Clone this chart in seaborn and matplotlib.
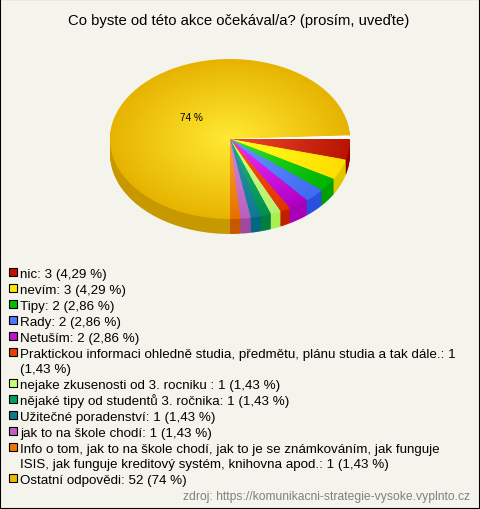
import numpy as np
import seaborn as sns
import matplotlib
matplotlib.use("Agg")
import matplotlib.pyplot as plt

title = "Co byste od této akce očekával/a? (prosím, uveďte)"
source = "zdroj: https://komunikacni-strategie-vysoke.vyplnto.cz"

labels = [
    "nic: 3 (4,29 %)",
    "nevím: 3 (4,29 %)",
    "Tipy: 2 (2,86 %)",
    "Rady: 2 (2,86 %)",
    "Netuším: 2 (2,86 %)",
    "Praktickou informaci ohledně studia, předmětu, plánu studia a tak dále.: 1\n(1,43 %)",
    "nejake zkusenosti od 3. rocniku : 1 (1,43 %)",
    "nějaké tipy od studentů 3. ročnika: 1 (1,43 %)",
    "Užitečné poradenství: 1 (1,43 %)",
    "jak to na škole chodí: 1 (1,43 %)",
    "Info o tom, jak to na škole chodí, jak to je se známkováním, jak funguje\nISIS, jak funguje kreditový systém, knihovna apod.: 1 (1,43 %)",
    "Ostatní odpovědi: 52 (74 %)",
]
counts = np.array([3, 3, 2, 2, 2, 1, 1, 1, 1, 1, 1, 52], dtype=float)
total_answers = 70

centre_colors = ["#EC4A2C", "#FFFF20", "#30E030", "#6694FF", "#F030FF", "#FF5510",
                 "#D4FF80", "#20B878", "#3098A8", "#D488E0", "#FFA428", "#FFE933"]
rim_colors = ["#B81400", "#FFDD00", "#00B400", "#3F6CF0", "#B000C4", "#E03400",
              "#B8F070", "#009050", "#107890", "#B860C0", "#E87000", "#E6B400"]
side_colors = ["#960000", "#E0C800", "#00A000", "#2850E0", "#A800B8", "#C02000",
               "#A8F050", "#007F40", "#006880", "#A048A0", "#C85800", "#C89800"]
legend_colors = ["#C01000", "#FFE800", "#00C000", "#4A78FF", "#C010D0", "#E84000",
                 "#C8FF70", "#00A060", "#107890", "#C060C0", "#EE7700", "#EEB800"]

bg = "#F5F4EC"

sns.set_theme(style="white")
plt.rcParams["font.family"] = ["Liberation Sans", "DejaVu Sans"]

fig = plt.figure(figsize=(4.8, 5.1), dpi=100, facecolor=bg)
ax = fig.add_axes([0, 0, 1, 1], facecolor=bg)

# the small slices take 5 degrees per answer, the big one its real share,
# what is left over shows up as the white gap
shares = counts / 72
shares[-1] = counts[-1] / total_answers
gap = 1 - shares.sum()
wedge_shares = np.append(shares, gap)
no_edge = {"linewidth": 0, "edgecolor": "none"}

# side of the pie
for offset in np.arange(0.1875, 0, -0.0125):
    ax.pie(wedge_shares, colors=side_colors + [bg], radius=1, center=(0, -offset),
           startangle=0, counterclock=False, wedgeprops=no_edge)

# top of the pie, radial gradient from rings
n_rings = 40
ramps = [sns.blend_palette([r, c], n_rings) for r, c in zip(rim_colors, centre_colors)]
radii = np.linspace(1, 0.03, n_rings)
for i, radius in enumerate(radii):
    ring_colors = [ramp[i] for ramp in ramps] + ["white"]
    ax.pie(wedge_shares, colors=ring_colors, radius=radius, center=(0, 0),
           startangle=0, counterclock=False, wedgeprops=no_edge)

ax.set_aspect("auto")
ax.set_xlim(-230 / 120, 250 / 120)
ax.set_ylim(-370 / 80, 140 / 80)
ax.axis("off")

ax.text(-0.325, 0.275, "74 %", fontsize=7.2, color="black", ha="center", va="center")

fig.text(239 / 480, 1 - 21 / 510, title, fontsize=10.7, color="black", ha="center", va="center")
fig.text(470 / 480, 1 - 497 / 510, source, fontsize=8.75, color="#808080", ha="right", va="center")

# legend by hand, the swatch stays on the first line of a wrapped label
y = 273
for label, color in zip(labels, legend_colors):
    fig.add_artist(plt.Rectangle((9 / 480, 1 - (y + 4) / 510), 8 / 480, 8 / 510,
                                 transform=fig.transFigure, facecolor=color,
                                 edgecolor="black", linewidth=0.8))
    for line in label.split("\n"):
        fig.text(20 / 480, 1 - (y + 5) / 510, line, fontsize=9.62, color="black",
                 ha="left", va="baseline")
        y += 15
    y += 1

fig.add_artist(plt.Rectangle((0, 0), 1, 1, transform=fig.transFigure, fill=False,
                             edgecolor="black", linewidth=1.5))

fig.savefig("out.png", dpi=100, facecolor=bg)
